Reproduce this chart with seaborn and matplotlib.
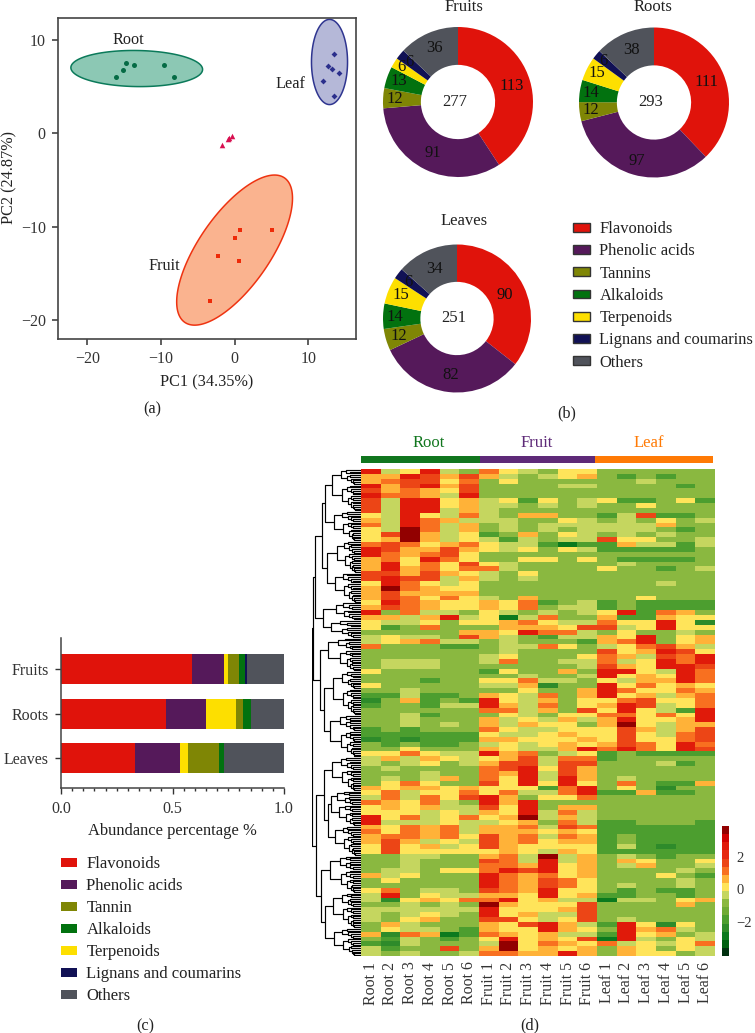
import numpy as np
import pandas as pd
import matplotlib
matplotlib.use("Agg")
import matplotlib.pyplot as plt
import seaborn as sns
from matplotlib.colors import ListedColormap
from matplotlib.patches import Patch

# =========================
# DATA
# =========================

root_pts_x = [-16.1, -15.1, -14.7, -13.7, -9.6, -8.2]
root_pts_y = [6.0, 6.7, 7.45, 7.3, 7.3, 6.0]
leaf_pts_x = [13.5, 12.7, 13.3, 14.2, 12.0, 13.5]
leaf_pts_y = [8.5, 7.2, 6.9, 6.4, 5.6, 4.0]
fruit_pts_x = [0.8, 5.1, 0.1, -2.2, 0.6, -3.3]
fruit_pts_y = [-10.3, -10.35, -11.2, -13.1, -13.7, -17.9]
qc_pts_x = [-1.7, -0.95, -0.7, -0.4]
qc_pts_y = [-1.25, -0.65, -0.5, -0.3]

# centre x, centre y, half width, half height, correlation
root_ell = (-13.3, 6.9, 8.95, 1.93, -0.05)
leaf_ell = (12.9, 7.6, 2.45, 4.55, 0.0)
fruit_ell = (0.0, -12.5, 7.87, 8.02, 0.69)

classes = ["Flavonoids", "Phenolic acids", "Tannins", "Alkaloids",
           "Terpenoids", "Lignans and coumarins", "Others"]
class_colors = ["#E0130B", "#55195A", "#7F8605", "#02720F",
                "#FDDF00", "#111155", "#50535B"]

fruit_counts = [113, 91, 12, 13, 6, 6, 36]
root_counts = [111, 97, 12, 14, 15, 6, 38]
leaf_counts = [90, 82, 12, 14, 15, 6, 34]

# how far out each count label sits, as a share of the radius
fruit_label_r = [0.75, 0.755, 0.84, 0.84, 0.88, 0.84, 0.78]
root_label_r = [0.75, 0.81, 0.85, 0.85, 0.86, 0.87, 0.76]
leaf_label_r = [0.72, 0.77, 0.82, 0.84, 0.82, 0.82, 0.73]

bar_cats = ["Fruits", "Roots", "Leaves"]
bar_order = ["Flavonoids", "Phenolic acids", "Terpenoids", "Tannin",
             "Alkaloids", "Lignans and coumarins", "Others"]
bar_colors = ["#E0130B", "#55195A", "#FDDF00", "#7F8605",
              "#02720F", "#111155", "#50535B"]
bar_fruits = [0.587, 0.142, 0.019, 0.051, 0.027, 0.009, 0.165]
bar_roots = [0.473, 0.177, 0.136, 0.028, 0.036, 0.0, 0.15]
bar_leaves = [0.332, 0.202, 0.035, 0.141, 0.023, 0.0, 0.267]
bar_legend = ["Flavonoids", "Phenolic acids", "Tannin", "Alkaloids",
              "Terpenoids", "Lignans and coumarins", "Others"]

sample_names = ["Root 1", "Root 2", "Root 3", "Root 4", "Root 5", "Root 6",
                "Fruit 1", "Fruit 2", "Fruit 3", "Fruit 4", "Fruit 5", "Fruit 6",
                "Leaf 1", "Leaf 2", "Leaf 3", "Leaf 4", "Leaf 5", "Leaf 6"]

level_values = {"G": -2.85, "g": -2.35, "m": -1.85, "b": -0.85, "l": -0.35, "y": 0.15,
                "a": 0.65, "o": 1.15, "r": 1.65, "R": 2.65, "D": 3.65}
heat_rows = [
    "RlyRlb oylbyy bbbbbb", "aaRrar alblya bmbmbb", "aorryo bybbbb bblbbb",
    "RarRar bbbbll bbbbmb", "raoayr bbbbbb bbbbbb", "RooalR bbbbbb bbbbbb",
    "rlRRya lymybl ymmbym", "rlRRya llblbl bbybbb", "rlRRla lbbbbb bbbbbb",
    "ylRylo lbaabb mlrmmb", "alRoal llbbyl blbybl", "olRola blblll lllabb",
    "ylDola blblbl lllbmb", "yrDaly mbabyl blblbb", "yaDaly lmlbll ryybbl",
    "oroyao yllmGm mallml", "Rraara ylybyl mmmmmb", "Roaory bbbbbb bbbbbb",
    "aoyRoy bbyyby bmmmmb", "aRyoyr ylbbbb blbbbb", "aRaoyo olbbbb ybbmbl",
    "rraray lbybbb bbbbbb", "rRrrla lblbbb bbbbbb", "yRoyly bbbbbb bbblbb",
    "aDoayy bbbbbb bbbbbb", "araaaa bbbbbb bbbbbb", "aroyoy lbabbb bbybbb",
    "yRoayy ayombl mbmmmm", "aroayy ayobll mbmmmm", "Rbollb ylblbl yRmoab",
    "aalaRl yGlobb ammayy", "yllyby yaoyll oyyRyg", "ymbobb baaayr rlyRyy",
    "bbbbba ayRool bybblb", "lyllbr albmll ayRbya", "lyaoll blbbbm aoRbya",
    "obbbmm blloyb lyoral", "bbbbbb blbbbb ryaRry", "bbbbbb lybbby oalroR",
    "blllbb lobbll olyRoR", "blllbb bbbbbl rayRRr", "ybbbbb mybbab RRylRo",
    "bbbbbb bblbbl RyayRo", "bbbmbb yyollb ylaaRo", "ybbbbb llagbb Ryoyay",
    "bblbbb bbybba Royyoa", "mmlmmb ayloba Ryalao", "gbambm Rylaby yoryyo",
    "mbbmll Raloby aRrlyo", "bbbbbb oolabr yRylmR", "bblmbb bylbyy ooyoyR",
    "bblbbb alylal aRyyaR", "bblblb alayyb aDylaa", "mbmbbb oyllyy yralar",
    "mmmmmm yllyay yrylor", "gmgmmm aayyya yryyor", "bmbmmb lylyay aroyRo",
    "bbybbb ayllaR oRoyRr", "yyoyll Raobly mbmmmm", "lalayl yarloo mbbbbb",
    "lblybl arrlrr bbblmb", "blbbbb orRyra bbbbbb", "bbblbb oaRlra bbbbbb",
    "blblab oyRlRa blbbbb", "byoybb ryRyRy bobmma", "ayaaya yyymoR bybgbb",
    "yolyyo yolloR mmammb", "loloyr Rabyyo bbbbbb", "oayolb RaRbbb bbbbbb",
    "yayall ryRbaa bbbbbb", "yyylyl ayRlol bbbbbb", "Ryolyo yaDlal bbbbbb",
    "Rlllyl lyabol mmbbbm", "ayoaol aaolro mmmmmm", "oyoaol aaayay mmmmmm",
    "aooaoy raoloa mbmmmm", "aralyl raoyaa mbmmmm", "yryaly rayyyy mlmgmm",
    "yryyyy yaylay mmmmmm", "bbllbb aolDla blbmbb", "bblbbb rolRla baybby",
    "bblbbb ooaRya blabbl", "bllbyy oRrRya bbbblb", "alybbb Roaoya bbbybm",
    "bybbbb Roaroy bbbblb", "bbbbbb Roaroy blbblb", "yobllb roaRyy bmbmmb",
    "lRbyll aayRya mmbbmb", "lgyayo oRyall Gllbya", "bblblb Dayyyr bbbbab",
    "llllll Ryyyar bbbbbb", "lblylb Ryallr bbbbbb", "lbyabb rrylyr blbbbb",
    "balbbb ayrRal mRygyb", "byllbm ayyRay bRaolb", "agoaGm oayall mRyabl",
    "bmlbmb yRyayr GRlbyl", "mglbbb lDyoay olylyo", "lmbbrb aDyaya baybyl",
    "lblbbl ooaaRa bayybl",
]

cbar_colors = ["#00300F", "#006010", "#0B7A1E", "#2E8B2A", "#4C9E2F", "#6FAB35",
               "#8AB840", "#C5D65F", "#FFE45A", "#FFB238", "#F87020", "#EC4516",
               "#E62A10", "#E01A0A", "#D00000", "#920000"]

# dendrogram: [distance from heatmap, left, right]; [distance, n] is a fan of n leaves
dend_tree = [49,
             [48,
              [46,
               [39,
                [36, [29, 24], [27, 17]],
                [34, [24, 18], [26, 17]]],
               [38, [25, 10], [30, 10]]],
              [41, [33, 19], [37, [28, 25], [31, 24]]]],
             [45,
              [37, [29, 19], [33, [30, [24, 8], [22, 12]], [26, 17]]],
              [40, [31, 21], [36, [28, 20], [27, 16]]]]]

# =========================
# FIGURE SETUP
# =========================

sns.set_theme(style="white")
plt.rcParams["font.family"] = ["Liberation Serif", "DejaVu Serif"]
plt.rcParams["font.size"] = 12
plt.rcParams["text.color"] = "#222222"
plt.rcParams["axes.labelcolor"] = "#222222"
plt.rcParams["xtick.color"] = "#333333"
plt.rcParams["ytick.color"] = "#333333"

W, H = 755, 1033
fig = plt.figure(figsize=(W / 100, H / 100), dpi=100)


def ax_px(left, top, right, bottom):
    return fig.add_axes([left / W, 1 - bottom / H, (right - left) / W, (bottom - top) / H])


def text_px(x, y, s, **kw):
    kw.setdefault("ha", "center")
    kw.setdefault("va", "center")
    kw.setdefault("fontsize", 11.7)
    fig.text(x / W, 1 - y / H, s, **kw)


# =========================
# (a) PCA
# =========================

ax = ax_px(58, 18, 356, 339)


def draw_ellipse(ell, face, edge):
    cx, cy, hw, hh, rho = ell
    t = np.linspace(0, 2 * np.pi, 200)
    ex = cx + hw * np.cos(t)
    ey = cy + hh * (rho * np.cos(t) + np.sqrt(1 - rho ** 2) * np.sin(t))
    ax.fill(ex, ey, facecolor=face, edgecolor=edge, linewidth=1.1, zorder=1)


draw_ellipse(root_ell, "#8CC8B4", "#0B7A5A")
draw_ellipse(leaf_ell, "#B5B8D8", "#2F3590")
draw_ellipse(fruit_ell, "#FAB38F", "#EE3311")

sns.scatterplot(x=root_pts_x, y=root_pts_y, color="#056B45", marker="o", s=13,
                linewidth=0, ax=ax, zorder=3)
sns.scatterplot(x=leaf_pts_x, y=leaf_pts_y, color="#2B2F8C", marker="D", s=9,
                linewidth=0, ax=ax, zorder=3)
sns.scatterplot(x=fruit_pts_x, y=fruit_pts_y, color="#EE2A08", marker="s", s=11,
                linewidth=0, ax=ax, zorder=3)
sns.scatterplot(x=qc_pts_x, y=qc_pts_y, color="#D81050", marker="^", s=16,
                linewidth=0, ax=ax, zorder=3)

ax.set_xlim(-24, 16.5)
ax.set_ylim(-22, 12.3)
ax.set_xticks([-20, -10, 0, 10])
ax.set_yticks([-20, -10, 0, 10])
ax.tick_params(length=4.3, width=1.1, labelsize=11.5, bottom=True, left=True, pad=4.5)
for s in ax.spines.values():
    s.set_color("#444444")
    s.set_linewidth(1.2)
ax.text(-14.4, 9.95, "Root", ha="center", va="center", fontsize=11.7)
ax.text(7.6, 5.2, "Leaf", ha="center", va="center", fontsize=11.7)
ax.text(-9.5, -14.2, "Fruit", ha="center", va="center", fontsize=11.7)
text_px(207, 382, "PC1 (34.35%)")
text_px(9, 178, "PC2 (24.87%)", rotation=90)
text_px(152, 409, "(a)")

# =========================
# (b) DONUTS
# =========================


def donut(cx, cy, r, counts, total, label_r):
    a = ax_px(cx - r, cy - r, cx + r, cy + r)
    wedges, texts = a.pie(counts, labels=counts, colors=class_colors, startangle=90,
                          counterclock=False, radius=1, labeldistance=1,
                          wedgeprops={"width": 0.505, "linewidth": 0},
                          textprops={"fontsize": 12, "ha": "center", "va": "center",
                                     "color": "#111111", "clip_on": False})
    for t, lr in zip(texts, label_r):
        px, py = t.get_position()
        t.set_position((px * lr, py * lr))
    a.set_xlim(-1, 1)
    a.set_ylim(-1, 1)
    a.text(-0.04, 0, str(total), ha="center", va="center", fontsize=12)


donut(458, 102, 75, fruit_counts, 277, fruit_label_r)
donut(654, 102.5, 75, root_counts, 293, root_label_r)
donut(457, 318.5, 74, leaf_counts, 251, leaf_label_r)
text_px(464, 7, "Fruits", fontsize=12)
text_px(653, 7, "Roots", fontsize=12)
text_px(464, 221, "Leaves", fontsize=12)
text_px(567, 413, "(b)")

handles_b = [Patch(facecolor=c, edgecolor="#333333", linewidth=1) for c in class_colors]
fig.legend(handles_b, classes, loc="upper left", bbox_to_anchor=(573 / W, 1 - 221 / H),
           frameon=False, borderaxespad=0, borderpad=0, fontsize=11.9,
           handlelength=1.0, handleheight=0.45, handletextpad=0.6, labelspacing=0.38)

# =========================
# (c) STACKED BARS
# =========================

ax = ax_px(61, 638, 284, 788)
shares = pd.DataFrame([bar_fruits, bar_roots, bar_leaves], index=bar_cats, columns=bar_order)
cum = shares.cumsum(axis=1)
# seaborn has no stacking, so draw the cumulative bars from longest to shortest
for name, col in list(zip(bar_order, bar_colors))[::-1]:
    sns.barplot(x=cum[name].values, y=bar_cats, color=col, saturation=1, width=0.67,
                linewidth=0, ax=ax)
ax.set_xlim(0, 1)
ax.set_ylim(2.67, -0.70)
ax.set_xticks([0, 0.5, 1.0])
ax.set_xticklabels(["0.0", "0.5", "1.0"])
ax.set_xticks(np.arange(0, 1.001, 0.05), minor=True)
ax.tick_params(axis="x", which="major", length=4.3, width=1, labelsize=11.5, pad=5, bottom=True)
ax.tick_params(axis="x", which="minor", length=2.2, width=1, bottom=True)
ax.tick_params(axis="y", length=4.3, width=1, labelsize=11.5, left=True, pad=4.5)
sns.despine(ax=ax)
for k in ["left", "bottom"]:
    ax.spines[k].set_color("#444444")
    ax.spines[k].set_linewidth(1.1)
text_px(172, 831, "Abundance percentage %", fontsize=11.9)
text_px(145, 1026, "(c)")

handles_c = [Patch(facecolor=bar_colors[bar_order.index(n)], linewidth=0) for n in bar_legend]
fig.legend(handles_c, bar_legend, loc="upper left", bbox_to_anchor=(61 / W, 1 - 856 / H),
           frameon=False, borderaxespad=0, borderpad=0, fontsize=12,
           handlelength=0.98, handleheight=0.45, handletextpad=0.55, labelspacing=0.36)

# =========================
# (d) HEATMAP
# =========================

hm = np.array([[level_values[c] for c in r.replace(" ", "")] for r in heat_rows])
hm = pd.DataFrame(hm, columns=sample_names)

ax = ax_px(361, 469, 715, 956)
cax = ax_px(722, 826, 729, 956)
sns.heatmap(hm, cmap=ListedColormap(cbar_colors), vmin=-4.1, vmax=3.9, ax=ax, cbar_ax=cax,
            xticklabels=True, yticklabels=False, cbar_kws={"ticks": [-2, 0, 2]})
ax.tick_params(axis="x", length=0, labelsize=11.5, rotation=90, pad=4)
cax.tick_params(length=0, labelsize=10.5, pad=5.5)
ax.collections[0].colorbar.outline.set_visible(False)

for x0, x1, col, label, lx in [(361, 479.5, "#11761E", "Root", 429),
                               (479.5, 594.5, "#5E2A78", "Fruit", 537),
                               (594.5, 712.5, "#FF7A05", "Leaf", 649)]:
    strip = ax_px(x0, 456, x1, 463)
    strip.set_facecolor(col)
    strip.set_xticks([])
    strip.set_yticks([])
    for s in strip.spines.values():
        s.set_visible(False)
    text_px(lx, 443, label, color=col, fontsize=12)
text_px(530, 1025, "(d)")

# =========================
# DENDROGRAM
# =========================

dax = ax_px(312, 469, 361, 956)
dax.set_xlim(49.5, 0)
dax.set_ylim(277, 0)
dax.axis("off")
leaf_idx = [0]
LINE = {"color": "black", "linewidth": 0.85, "solid_capstyle": "butt"}


def bracket(d, a, b):
    dax.plot([a[0], d, d, b[0]], [a[1], a[1], b[1], b[1]], **LINE)
    return d, (a[1] + b[1]) / 2


def fan(n, d):
    if n == 1:
        leaf_idx[0] += 1
        return 0, leaf_idx[0] - 0.5
    k = max(1, n * 2 // 5)
    sub = 6 + (d - 6) * 0.62
    return bracket(d, fan(k, sub), fan(n - k, sub * 0.94))


def walk(node):
    if len(node) == 2:
        return fan(node[1], node[0])
    return bracket(node[0], walk(node[1]), walk(node[2]))


walk(dend_tree)

fig.savefig("out.png", dpi=100)
